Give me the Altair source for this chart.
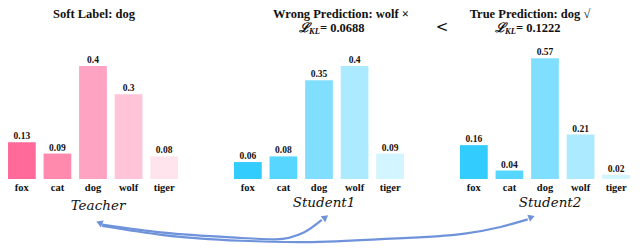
import altair as alt
import pandas as pd

categories = ["fox", "cat", "dog", "wolf", "tiger"]
teacher = [0.13, 0.09, 0.4, 0.3, 0.08]
student1 = [0.06, 0.08, 0.35, 0.4, 0.09]
student2 = [0.16, 0.04, 0.57, 0.21, 0.02]

pinks = ["#FF6A9A", "#FF8AAE", "#FFA3C2", "#FFC4D8", "#FFE4EE"]
blues = ["#33CCFF", "#57D6FF", "#80DFFF", "#ABEAFF", "#D3F5FF"]

names = ["Teacher", "Student1", "Student2"]
titles = ["Soft Label: dog", "Wrong Prediction: wolf \u00d7", "True Prediction: dog \u221a"]
kl_values = ["", "= 0.0688", "= 0.1222"]

# arrow paths (reference pixel frame)
arrow_a_x = [97, 160, 230, 275, 305, 323]
arrow_a_y = [228, 236.5, 241.5, 243.5, 236, 223]
arrow_b_x = [97, 160, 240, 300, 380, 470, 507, 535]
arrow_b_y = [229.5, 239, 245, 246.5, 243.5, 237.5, 230.5, 222.5]
head_x = [95, 326, 538]
head_y = [226.5, 221, 220.5]
head_angle = [292, 52, 70]

W, H = 170, 140
SERIF = "Times New Roman, Liberation Serif, Times, serif"


def panel(vals, colors, ymax, idx):
    df = pd.DataFrame({"cat": categories, "p": vals,
                       "label": [f"{v:g}" for v in vals]})
    x = alt.X("cat:N", sort=categories,
              scale=alt.Scale(paddingInner=0.22, paddingOuter=0),
              axis=alt.Axis(title=None, labelAngle=0, ticks=False, domain=False,
                            labelFont=SERIF, labelFontWeight="bold",
                            labelFontSize=10.5, labelColor="#111",
                            labelPadding=3))
    y = alt.Y("p:Q", scale=alt.Scale(domain=[0, ymax], nice=False, zero=True),
              axis=None)
    base = alt.Chart(df).encode(x=x, y=y)
    bars = base.mark_bar().encode(
        color=alt.Color("cat:N", scale=alt.Scale(domain=categories, range=colors),
                        legend=None))
    vlab = base.mark_text(dy=-6, font=SERIF, fontWeight="bold", fontSize=9.5,
                          color="#111").encode(text="label:N")
    tdf = pd.DataFrame({"t": [titles[idx]]})
    t1 = alt.Chart(tdf).mark_text(font=SERIF, fontWeight="bold", fontSize=12.5,
                                  color="#111").encode(
        x=alt.value([86, 107, 70][idx]), y=alt.value(-25), text="t:N")
    ndf = pd.DataFrame({"t": [names[idx]]})
    nm = alt.Chart(ndf).mark_text(font="DejaVu Serif", fontStyle="italic",
                                  fontSize=13.5, color="#111").encode(
        x=alt.value(90), y=alt.value(167 if idx == 0 else 164), text="t:N")
    layers = [bars, vlab, t1, nm]
    if idx > 0:
        lx = [70, 40][idx - 1]
        ldf = pd.DataFrame({"t": ["\u2112"]})
        L = alt.Chart(ldf).mark_text(font="DejaVu Serif", fontWeight="bold",
                                     fontStyle="italic", fontSize=13,
                                     color="#111").encode(
            x=alt.value(lx), y=alt.value(-11), text="t:N")
        kdf = pd.DataFrame({"t": ["KL"]})
        K = alt.Chart(kdf).mark_text(font=SERIF, fontStyle="italic",
                                     fontWeight="bold", fontSize=8.5,
                                     color="#111").encode(
            x=alt.value(lx + 10.5), y=alt.value(-8), text="t:N")
        vdf = pd.DataFrame({"t": [kl_values[idx]]})
        V = alt.Chart(vdf).mark_text(font=SERIF, fontWeight="bold", fontSize=12.5,
                                     align="left", color="#111").encode(
            x=alt.value(lx + 16), y=alt.value(-11), text="t:N")
        layers += [L, K, V]
    if idx == 2:
        ltdf = pd.DataFrame({"t": ["<"]})
        lt = alt.Chart(ltdf).mark_text(font="DejaVu Sans", fontSize=15,
                                       color="#111").encode(
            x=alt.value(-18), y=alt.value(-12), text="t:N")
        layers.append(lt)
    if idx == 0:
        xs = alt.Scale(domain=[0, 175], range=[0, W])
        ys = alt.Scale(domain=[32.6, 180], range=[0, H])
        adf = pd.DataFrame({
            "x": arrow_a_x + arrow_b_x,
            "y": arrow_a_y + arrow_b_y,
            "g": ["a"] * len(arrow_a_x) + ["b"] * len(arrow_b_x),
        })
        arr = alt.Chart(adf).mark_line(interpolate="monotone", strokeWidth=2.2,
                                       color="#6F93DB").encode(
            x=alt.X("x:Q", scale=xs, axis=None),
            y=alt.Y("y:Q", scale=ys, axis=None),
            detail="g:N")
        hdf = pd.DataFrame({"x": head_x, "y": head_y, "a": head_angle})
        heads = alt.Chart(hdf).mark_point(shape="triangle", filled=True, size=55,
                                          opacity=1, color="#6F93DB").encode(
            x=alt.X("x:Q", scale=xs, axis=None),
            y=alt.Y("y:Q", scale=ys, axis=None),
            angle=alt.Angle("a:Q", scale=None))
        arrows = alt.layer(arr, heads)
        main = alt.layer(*layers)
        return alt.layer(main, arrows).resolve_scale(x="independent",
                                                    y="independent")
    return alt.layer(*layers)


p1 = panel(teacher, pinks, 0.4956, 0).properties(width=W, height=H)
p2 = panel(student1, blues, 0.4956, 1).properties(width=W, height=H)
p3 = panel(student2, blues, 0.6614, 2).properties(width=W, height=H)

chart = alt.hconcat(p1, p2, p3, spacing=56, bounds="flush").resolve_scale(
    color="independent"
).properties(
    padding=0, background="white"
).configure_view(strokeWidth=0, stroke="transparent")

chart.save("out.html", embed_options={"renderer": "svg", "actions": False})
